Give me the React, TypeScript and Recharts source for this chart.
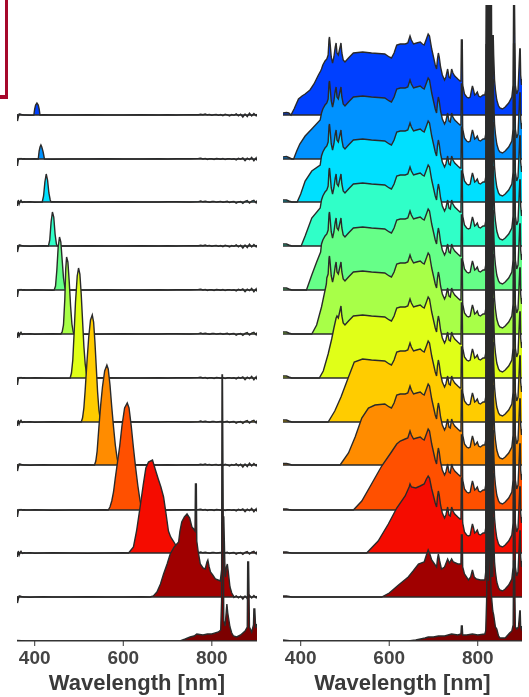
import React from 'react';
import { ComposedChart, Area, XAxis, YAxis } from 'recharts';

// vertical offset of each spectrum, top row first
const offsets = [526, 482, 439, 395, 351, 307, 263, 219, 176, 131, 88, 44, 0];
const fills = ['#0040ff', '#0092ff', '#00e0ff', '#30ffc8', '#66ff88', '#a8ff48', '#e0ff18', '#ffcc00', '#ff8c00', '#ff5000', '#f50c00', '#a00000', '#7c0000'];
const xTicks = [400, 600, 800];

// left panel: noise floor
const noiseWl = [360, 361, 363, 365, 367, 369, 372, 376, 380, 390, 400, 420, 440, 480, 520, 560, 600, 640, 680, 700, 720, 750, 770, 775, 780, 785, 790, 795, 800, 805, 810, 815, 820, 825, 830, 835, 840, 845, 850, 855, 860, 865, 870, 875, 880, 885, 890, 895, 900, 902];
const noiseA = [1, -6, -2, 1, 1, 0.5, 0.3, 0, 0, -0.2, 0, 0.2, 0, 0, 0.2, 0, 0, 0.2, 0, 0.3, 0, 0.4, 0.2, 0.8, 0.3, 1, 0.2, 0.6, -0.2, 0.4, 0.6, -0.3, 0.4, -0.6, 0.8, 0.1, -1, 0.5, -0.3, 1.2, -0.8, 0.8, -2, 1, -1.5, 1.8, -1, 1.5, -0.8, 0.8];
const noiseB = [0.5, -7, -1, 0.5, 0.2, 0.6, 0, 0.2, 0, 0, 0.2, 0, -0.2, 0, 0, 0.2, 0, 0, 0.3, 0, 0.2, 0.3, 0.6, 0.9, 0, 0.6, -0.4, 0.3, 0.2, -0.5, 0.5, 0.2, -0.2, 0.5, -0.6, 0.2, 0.4, -0.3, 0.3, -0.9, 0.6, -0.2, 1, -1.7, 0.8, -0.7, 1.7, -1.8, 1.2, -1.6];
const noiseC = [0, -4, 2, -2, 0.5, 1.8, -0.5, 0.2, 0, 0.2, -0.2, 0, 0.2, 0, -0.2, 0, 0.2, 0, 0, 0.2, 0.3, 0, 0.4, 1, 0.2, 0.8, 0.2, -0.3, 0.5, 0.6, -0.1, 0.3, 0.6, -0.2, 0.2, 0.7, -0.5, 0.2, 0.5, -1.2, 0, 0.5, -1.4, 0.6, 1.5, -1.1, 0.8, 1.6, -1, 1.4];

// left panel: filtered peaks
const peakWl1 = [398, 400, 402, 405, 408, 410, 412];
const peakVal1 = [0, 6, 10, 12, 10, 6, 0];
const peakWl2 = [408, 410, 412, 414, 416, 419, 422];
const peakVal2 = [0, 8, 12, 14, 12, 7, 0];
const peakWl3 = [417, 420, 423, 426, 429, 432, 435, 437];
const peakVal3 = [0, 6, 20, 28, 22, 9, 2, 0];
const peakWl4 = [431, 434, 437, 440, 443, 446, 449, 451];
const peakVal4 = [0, 6, 24, 34, 29, 12, 2, 0];
const peakWl5 = [444, 447, 450, 453, 456, 459, 462, 465, 468, 470];
const peakVal5 = [0, 4, 20, 43, 53, 48, 30, 12, 3, 0];
const peakWl6 = [459, 462, 465, 468, 470, 472, 475, 478, 481, 484, 487, 489];
const peakVal6 = [0, 2, 9, 35, 65, 77, 72, 52, 28, 10, 2, 0];
const peakWl7 = [480, 483, 486, 489, 492, 496, 499, 502, 505, 508, 511, 514, 517, 519];
const peakVal7 = [0, 5, 18, 45, 75, 102, 110, 104, 84, 58, 32, 14, 4, 0];
const peakWl8 = [505, 508, 511, 514, 518, 522, 526, 530, 533, 536, 539, 542, 545, 549];
const peakVal8 = [0, 4, 14, 32, 60, 85, 102, 107, 100, 80, 55, 30, 12, 0];
const peakWl9 = [535, 538, 541, 545, 549, 553, 558, 563, 566, 570, 574, 578, 582, 586, 589];
const peakVal9 = [0, 4, 14, 38, 60, 78, 94, 100, 96, 80, 58, 38, 20, 7, 0];
const peakWl10 = [566, 570, 574, 578, 582, 587, 592, 597, 603, 609, 613, 618, 623, 628, 633, 638, 642];
const peakVal10 = [0, 3, 9, 18, 32, 48, 64, 84, 102, 107, 102, 84, 62, 42, 24, 9, 0];
const peakWl11 = [612, 623, 630, 638, 645, 651, 657, 666, 672, 679, 685, 691, 697, 702, 707, 713, 721, 728];
const peakVal11 = [0, 6, 22, 46, 68, 85, 91, 93, 84, 74, 66, 56, 38, 22, 16, 12, 6, 0];
const peakWl12 = [660, 668, 676, 684, 691, 699, 706, 715, 725, 728, 732, 738, 744, 750, 755, 759, 762, 763, 765, 766, 769, 774, 780, 785, 789, 791, 794, 797, 802, 808, 814, 819, 823, 825, 827, 830, 831, 833, 835, 837, 841, 845, 849];
const peakVal12 = [0, 1, 5, 13, 23, 33, 43, 50, 55, 66, 75, 80, 83, 79, 70, 68, 66, 113, 113, 56, 46, 33, 29, 28, 35, 37, 30, 25, 22, 18, 17, 16, 30, 80, 80, 22, 20, 30, 33, 26, 10, 4, 1];
const peakWl13 = [360, 380, 500, 650, 728, 740, 751, 760, 766, 780, 790, 800, 815, 820, 822, 823, 824, 827, 830, 833, 834, 836, 841, 845, 849, 856, 865, 875, 880, 881, 883, 885, 890, 894, 895, 897, 899, 902];
const peakVal13 = [0.5, 0, 0, 0, 0, 2, 4, 5, 7, 6, 7, 7, 9, 11, 40, 266, 266, 20, 15, 32, 37, 28, 14, 8, 5, 4, 6, 10, 14, 79, 79, 14, 9, 16, 32, 32, 13, 17];

// right panel: broad part of the spectrum that the rows share
const tailWl = [447, 450, 455, 459, 462, 464, 465, 466, 469, 472, 475, 478, 480, 482, 485, 488, 491, 493, 496, 500, 508, 519, 540, 560, 590, 600, 605, 611, 617, 625, 636, 642, 647, 650, 655, 662, 670, 675, 679, 684, 688, 691, 696, 700, 704, 707, 709, 711, 713, 716, 720, 725, 728, 732, 735, 738, 741, 744, 748, 755, 760, 762, 763, 765, 766, 770, 775, 779, 783, 786, 788, 790, 793, 796, 799, 802, 806, 812, 816, 818, 819, 820, 821, 822, 823, 824, 825, 826, 827, 828, 829, 830, 831, 832, 833, 834, 835, 836, 838, 840, 843, 847, 850, 856, 862, 870, 877, 880, 881, 883, 885, 888, 891, 893, 895, 896, 897, 899, 900];
const tailVal = [46, 50, 54, 56, 60, 76, 78, 74, 58, 52, 58, 68, 72, 62, 60, 66, 72, 62, 55, 53, 57, 62, 63, 62, 61, 58, 57, 62, 70, 71, 71, 72, 79, 75, 71, 72, 73, 71, 70, 76, 81, 79, 66, 58, 50, 46, 56, 62, 58, 48, 40, 35, 38, 46, 38, 37, 46, 42, 39, 36, 34, 34, 75, 75, 30, 21, 18, 17, 18, 25, 29, 26, 20, 21, 23, 19, 18, 20, 20, 25, 115, 20, 115, 20, 115, 20, 115, 20, 115, 20, 115, 20, 115, 20, 80, 20, 80, 60, 35, 25, 15, 9, 7, 6, 8, 12, 18, 30, 115, 115, 30, 21, 25, 45, 66, 66, 40, 30, 36];

// right panel: rising edge of each row
const riseWl1 = [360, 368, 373, 378, 385, 395, 403, 410, 421, 430, 440, 445];
const riseVal1 = [2, 2.5, 2, 0, 6, 16, 19, 21, 25, 31, 40, 44];
const riseWl2 = [360, 368, 373, 380, 384, 391, 398, 410, 425, 444];
const riseVal2 = [2, 2.5, 1.5, 0, 0, 8, 15, 23, 30, 39];
const riseWl3 = [360, 368, 373, 380, 392, 400, 410, 425, 444];
const riseVal3 = [2, 2, 1, 0, 0, 8, 21, 31, 37];
const riseWl4 = [360, 368, 373, 380, 401, 410, 425, 444];
const riseVal4 = [2, 2, 1, 0, 0, 10, 28, 38];
const riseWl5 = [360, 368, 373, 380, 413, 425, 436, 445];
const riseVal5 = [2, 2, 1, 0, 0, 15, 28, 38];
const riseWl6 = [360, 368, 373, 380, 425, 436, 447, 458];
const riseVal6 = [2, 2, 1, 0, 0, 9, 27, 50];
const riseWl7 = [360, 368, 373, 380, 442, 451, 462, 470, 475, 480];
const riseVal7 = [2, 2, 1, 0, 0, 7, 24, 39, 50, 60];
const riseWl8 = [360, 368, 373, 380, 462, 477, 491, 508, 521];
const riseVal8 = [2, 2, 1, 0, 0, 11, 25, 45, 60];
const riseWl9 = [360, 368, 373, 380, 489, 508, 523, 538, 553, 568];
const riseVal9 = [1.5, 1.5, 1, 0, 0, 12, 28, 47, 57, 60];
const riseWl10 = [360, 368, 373, 380, 519, 538, 560, 583, 605, 617, 625, 636];
const riseVal10 = [1, 1, 0.5, 0, 0, 9, 26, 44, 58, 66, 69, 71];
const riseWl11 = [360, 368, 373, 380, 549, 575, 598, 617, 636, 645, 647, 650, 660, 670, 679, 684, 688, 691, 696, 700];
const riseVal11 = [1, 1, 0.5, 0, 0, 12, 29, 45, 57, 66, 69, 66, 65, 67, 69, 74, 77, 75, 64, 57];
const riseWl12 = [360, 368, 380, 583, 600, 621, 643, 654, 666, 679, 684, 688, 691, 696, 707, 709, 711, 714, 718, 725, 732, 736, 741, 745, 755, 762, 763, 765, 766, 770, 779, 784, 788, 792, 797, 806, 816];
const riseVal12 = [1, 1, 0, 0, 4, 12, 20, 26, 33, 35, 42, 47, 44, 37, 30, 38, 43, 36, 28, 30, 38, 34, 38, 35, 33, 33, 62, 62, 30, 23, 17, 20, 27, 20, 18, 17, 17];
const riseWl13 = [360, 380, 643, 660, 681, 688, 700, 711, 725, 741, 755, 762, 763, 765, 766, 775, 788, 800, 816, 818, 820, 821, 823, 824, 826, 828, 830, 834, 836, 840, 843, 847, 850, 862, 872, 877, 880, 881, 883, 885, 888, 892, 895, 896, 897, 899, 900];
const riseVal13 = [1, 0, 0, 1, 3, 4, 4, 5, 5, 7, 6, 7, 15, 15, 6, 6, 7, 6, 7, 10, 40, 92, 92, 60, 92, 92, 50, 30, 26, 14, 12, 5, 3, 3, 8, 10, 16, 80, 80, 14, 12, 14, 30, 30, 14, 12, 15];

type Row = { wl: number; band: [number, number] };

// overlay points win over the backdrop inside the overlay's own range
const toRows = (backWl: number[], backVal: number[], topWl: number[], topVal: number[], base: number): Row[] => {
    const first = topWl[0];
    const last = topWl[topWl.length - 1];
    const rows: Row[] = [];
    backWl.forEach((wl, i) => {
        if (wl < first || wl > last) rows.push({ wl, band: [base, base + backVal[i]] });
    });
    topWl.forEach((wl, i) => rows.push({ wl, band: [base, base + topVal[i]] }));
    return rows.sort((a, b) => a.wl - b.wl);
};

const leftSeries = [
    toRows(noiseWl, noiseA, peakWl1, peakVal1, offsets[0]),
    toRows(noiseWl, noiseB, peakWl2, peakVal2, offsets[1]),
    toRows(noiseWl, noiseC, peakWl3, peakVal3, offsets[2]),
    toRows(noiseWl, noiseA, peakWl4, peakVal4, offsets[3]),
    toRows(noiseWl, noiseB, peakWl5, peakVal5, offsets[4]),
    toRows(noiseWl, noiseC, peakWl6, peakVal6, offsets[5]),
    toRows(noiseWl, noiseB, peakWl7, peakVal7, offsets[6]),
    toRows(noiseWl, noiseC, peakWl8, peakVal8, offsets[7]),
    toRows(noiseWl, noiseA, peakWl9, peakVal9, offsets[8]),
    toRows(noiseWl, noiseB, peakWl10, peakVal10, offsets[9]),
    toRows(noiseWl, noiseC, peakWl11, peakVal11, offsets[10]),
    toRows(noiseWl, noiseA, peakWl12, peakVal12, offsets[11]),
    toRows(noiseWl, noiseA, peakWl13, peakVal13, offsets[12]),
];

const rightSeries = [
    toRows(tailWl, tailVal, riseWl1, riseVal1, offsets[0]),
    toRows(tailWl, tailVal, riseWl2, riseVal2, offsets[1]),
    toRows(tailWl, tailVal, riseWl3, riseVal3, offsets[2]),
    toRows(tailWl, tailVal, riseWl4, riseVal4, offsets[3]),
    toRows(tailWl, tailVal, riseWl5, riseVal5, offsets[4]),
    toRows(tailWl, tailVal, riseWl6, riseVal6, offsets[5]),
    toRows(tailWl, tailVal, riseWl7, riseVal7, offsets[6]),
    toRows(tailWl, tailVal, riseWl8, riseVal8, offsets[7]),
    toRows(tailWl, tailVal, riseWl9, riseVal9, offsets[8]),
    toRows(tailWl, tailVal, riseWl10, riseVal10, offsets[9]),
    toRows(tailWl, tailVal, riseWl11, riseVal11, offsets[10]),
    toRows(tailWl, tailVal, riseWl12, riseVal12, offsets[11]),
    toRows(tailWl, tailVal, riseWl13, riseVal13, offsets[12]),
];

const Panel: React.FC<{ series: Row[][]; left: number; width: number; marginLeft: number; marginRight: number; xMax: number }> = ({ series, left, width, marginLeft, marginRight, xMax }) => (
    <div style={{ position: 'absolute', left, top: 5, filter: 'blur(0.4px)' }}>
        <ComposedChart width={width} height={692} margin={{ top: 0, right: marginRight, bottom: 0, left: marginLeft }}>
            <XAxis
                dataKey="wl"
                type="number"
                domain={[360, xMax]}
                ticks={xTicks}
                allowDataOverflow
                height={56}
                stroke="#333"
                tickSize={5}
                tickMargin={5}
                tick={{ fontFamily: 'Liberation Sans', fontWeight: 700, fontSize: 19, fill: '#444' }}
                label={{ value: 'Wavelength [nm]', position: 'insideBottom', offset: 7, style: { fontFamily: 'Liberation Sans', fontWeight: 700, fontSize: 22, fill: '#3a3a3a' } }}
            />
            <YAxis hide domain={[0, 636]} allowDataOverflow />
            {series.map((rows, i) => (
                <Area
                    key={i}
                    data={rows}
                    dataKey="band"
                    fill={fills[i]}
                    fillOpacity={1}
                    stroke="#2a2a2a"
                    strokeWidth={1.4}
                    dot={false}
                    activeDot={false}
                    isAnimationActive={false}
                />
            ))}
        </ComposedChart>
    </div>
);

const App: React.FC = () => (
    <div style={{ position: 'absolute', left: 0, top: 0, width: 529, height: 697, background: '#fff', overflow: 'hidden' }}>
        <div style={{ position: 'absolute', left: 0, top: 0, width: 5, height: 95, borderRight: '3.5px solid #a6082b', borderBottom: '4px solid #a6082b' }} />
        <Panel series={leftSeries} left={0} width={265} marginLeft={17} marginRight={8} xMax={902} />
        <Panel series={rightSeries} left={265} width={264} marginLeft={18} marginRight={7} xMax={900} />
    </div>
);

export default App;
